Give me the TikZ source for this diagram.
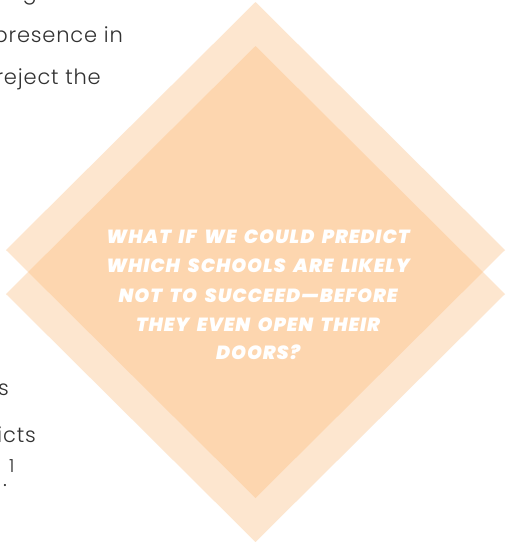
\documentclass[tikz,border=0pt]{standalone}
\usepackage{fontspec}
\newfontfamily\bodyfont{Poppins Light}[LetterSpace=4]
\newfontfamily\qfont{Poppins Black Italic}[LetterSpace=5,WordSpace=1.8]
\newfontfamily\supfont{Poppins Light}
\definecolor{peachlight}{RGB}{253,230,207}
\definecolor{peachdark}{RGB}{253,214,175}
\definecolor{bodygray}{RGB}{50,50,50}
\begin{document}
\begin{tikzpicture}[x=1pt,y=-1pt,
  bodytext/.style={font=\bodyfont\fontsize{21}{24}\selectfont, text=bodygray, inner sep=0pt},
  qline/.style={font=\qfont\fontsize{19}{24}\selectfont, text=white, inner sep=0pt, anchor=base}]
\useasboundingbox (0,0) rectangle (506,542);
\fill[white] (0,0) rectangle (506,542);
% diamonds
\coordinate (ut) at (255.5,2);
\coordinate (ur) at (505,250);
\coordinate (ub) at (255.5,498);
\coordinate (ul) at (6,250);
\coordinate (lt) at (255.5,46);
\coordinate (lr) at (505,294);
\coordinate (lb) at (255.5,542);
\coordinate (ll) at (6,294);
\fill[peachlight] (ut) -- (ur) -- (ub) -- (ul) -- cycle;
\fill[peachlight] (lt) -- (lr) -- (lb) -- (ll) -- cycle;
\begin{scope}
  \clip (ut) -- (ur) -- (ub) -- (ul) -- cycle;
  \fill[peachdark] (lt) -- (lr) -- (lb) -- (ll) -- cycle;
\end{scope}
% body text fragments
\node[bodytext, anchor=base east] (t0) at (37,-1) {g};
\node[bodytext, anchor=base east] (t1) at (123,42) {presence in};
\node[bodytext, anchor=base east] (t2) at (101,84) {reject the};
\node[bodytext, anchor=base east] (t3) at (9,395) {s};
\node[bodytext, anchor=base east] (t4) at (36,442) {icts};
\node[bodytext, anchor=base west] (t5) at (3,486) {.};
\node[font=\supfont\fontsize{18}{20}\selectfont, text=bodygray, inner sep=0pt, anchor=base west] (t6) at (9,472) {1};
% question
\node[qline] (q1) at (258,243) {WHAT IF WE COULD PREDICT};
\node[qline] (q2) at (258,272.5) {WHICH SCHOOLS ARE LIKELY};
\node[qline] (q3) at (258,302) {NOT TO SUCCEED—BEFORE};
\node[qline] (q4) at (258,331) {THEY EVEN OPEN THEIR};
\node[qline] (q5) at (258,359) {DOORS?};
\end{tikzpicture}
\end{document}
